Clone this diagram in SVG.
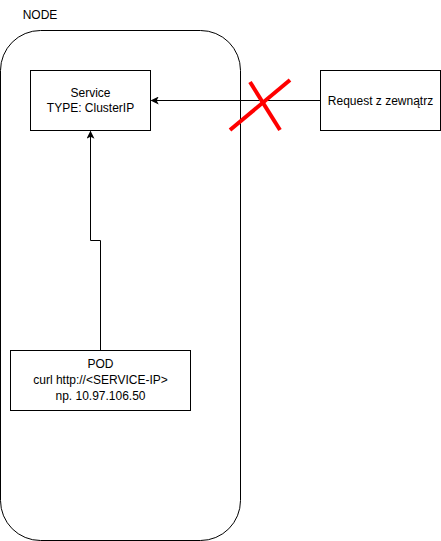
<svg xmlns="http://www.w3.org/2000/svg" width="441" height="541" viewBox="0 0 441 541">
<style>
.box{fill:#fff;stroke:#000;stroke-width:1}
.t{font-family:"Liberation Sans",Arial,sans-serif;font-size:12px;fill:#000;text-anchor:middle}
.edge{fill:none;stroke:#000;stroke-width:1}
.x{stroke:#ff0000;stroke-width:4;fill:none}
</style>
<defs>
<marker id="ah" viewBox="0 0 10 10" refX="9" refY="5" markerWidth="8" markerHeight="8" markerUnits="userSpaceOnUse" orient="auto">
<path d="M0,0 L10,5 L0,10 L2.5,5 Z" fill="#000"/>
</marker>
</defs>
<rect width="441" height="541" fill="#fff"/>
<g id="node">
<rect x="0.5" y="30.5" width="240" height="510" rx="40" ry="40" fill="none" stroke="#000"/>
<text class="t" x="40" y="19">NODE</text>
</g>
<g id="service">
<rect class="box" x="30.5" y="70.5" width="120" height="60"/>
<text class="t" x="90.5" y="97">Service</text>
<text class="t" x="90.5" y="112">TYPE: ClusterIP</text>
</g>
<g id="request">
<rect class="box" x="320.5" y="70.5" width="120" height="60"/>
<text class="t" x="380.5" y="105">Request z zewnątrz</text>
</g>
<g id="pod">
<rect class="box" x="10.5" y="350.5" width="180" height="60"/>
<text class="t" x="100.5" y="368">POD</text>
<text class="t" x="100.5" y="384">curl http://&lt;SERVICE-IP&gt;</text>
<text class="t" x="100.5" y="400">np. 10.97.106.50</text>
</g>
<g id="connectors">
<path class="edge" d="M320.5,100.5 L151.5,100.5" marker-end="url(#ah)"/>
<path class="edge" d="M100.5,350.5 L100.5,240.5 L90.5,240.5 L90.5,131.5" marker-end="url(#ah)"/>
</g>
<g id="cross">
<line class="x" x1="230" y1="130" x2="290" y2="80"/>
<line class="x" x1="250" y1="82" x2="280" y2="130"/>
</g>
</svg>
